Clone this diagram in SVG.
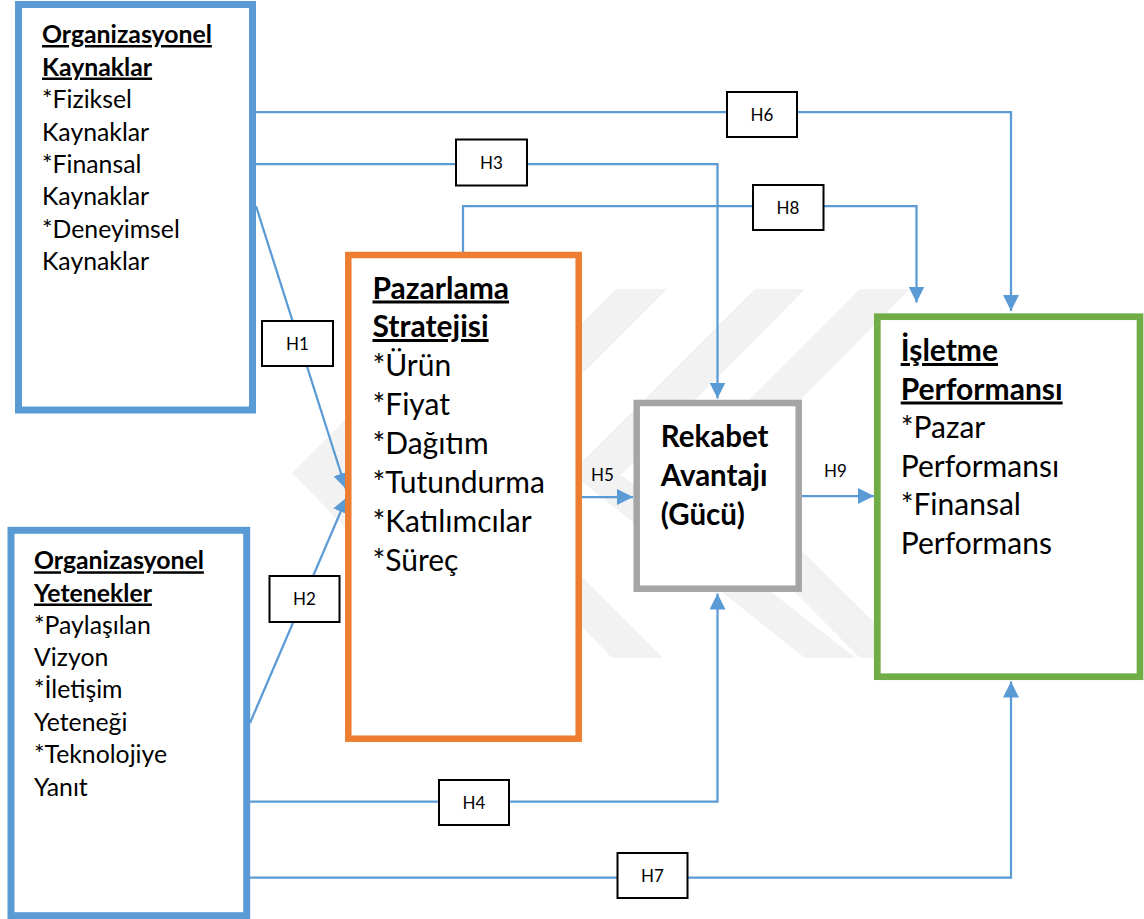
<svg xmlns="http://www.w3.org/2000/svg" width="1144" height="919" viewBox="0 0 1144 919">
  <style>
    .t { font-family: Lato, "Liberation Sans", sans-serif; fill: #000; }
    .s1 { font-size: 24.8px; }
    .s2 { font-size: 30px; }
    .hd { font-weight: bold; text-decoration: underline; }
    .b { font-weight: bold; }
    .lbl { font-family: Lato, "Liberation Sans", sans-serif; font-size: 17px; text-anchor: middle; fill: #000; }
    .lblbox { fill: #fff; stroke: #000; stroke-width: 2; }
    .conn { fill: none; stroke: #5B9BD5; stroke-width: 2.25; }
    .wm { fill: #F2F2F2; }
  </style>
  <defs>
    <marker id="arrow" markerUnits="userSpaceOnUse" markerWidth="16" markerHeight="16" refX="16" refY="8" orient="auto">
      <path d="M0,0 L16,8 L0,16 z" fill="#5B9BD5"/>
    </marker>
  </defs>

  <rect width="1144" height="919" fill="#fff"/>

  <!-- background emblem: nested chevrons -->
  <g id="emblem">
    <polygon class="wm" points="476,289 527,289 343,475 523,658 472,658 292,473"/>
    <polygon class="wm" points="616,289 667,289 481,475 663,658 612,658 432,473"/>
    <polygon class="wm" points="755,289 805,289 621,475 856,658 805,658 571,473"/>
    <polygon class="wm" points="860,289 910,289 726,475 910,658 860,658 676,473"/>
  </g>

  <!-- connectors -->
  <g id="connectors">
    <path class="conn" d="M256,112 H1011 V311" marker-end="url(#arrow)"/>
    <path class="conn" d="M244,164 H717.5 V398.5" marker-end="url(#arrow)"/>
    <path class="conn" d="M463,252 V206 H916.5 V302.5" marker-end="url(#arrow)"/>
    <path class="conn" d="M256,206 L346,489" marker-end="url(#arrow)"/>
    <path class="conn" d="M250,723 L347,497" marker-end="url(#arrow)"/>
    <path class="conn" d="M582,497 H633" marker-end="url(#arrow)"/>
    <path class="conn" d="M802,496 H874" marker-end="url(#arrow)"/>
    <path class="conn" d="M250,801.7 H717.5 V593.5" marker-end="url(#arrow)"/>
    <path class="conn" d="M250,877.7 H1011 V681.5" marker-end="url(#arrow)"/>

    <g id="label-H6"><rect class="lblbox" x="727" y="92" width="70" height="45"/><text class="lbl" x="762" y="121">H6</text></g>
    <g id="label-H3"><rect class="lblbox" x="456" y="139.5" width="71" height="46"/><text class="lbl" x="491.5" y="169">H3</text></g>
    <g id="label-H8"><rect class="lblbox" x="753" y="185" width="70.5" height="45"/><text class="lbl" x="788" y="214">H8</text></g>
    <g id="label-H1"><rect class="lblbox" x="262" y="321" width="71" height="45"/><text class="lbl" x="297.5" y="350">H1</text></g>
    <g id="label-H2"><rect class="lblbox" x="269.5" y="576" width="70" height="46"/><text class="lbl" x="304.5" y="605">H2</text></g>
    <g id="label-H4"><rect class="lblbox" x="439" y="780" width="70" height="45"/><text class="lbl" x="474" y="809">H4</text></g>
    <g id="label-H7"><rect class="lblbox" x="617.5" y="853" width="70" height="45"/><text class="lbl" x="652.5" y="882">H7</text></g>
    <text class="lbl" x="602.5" y="480.7">H5</text>
    <text class="lbl" x="835.5" y="477.3">H9</text>
  </g>

  <!-- Organizasyonel Kaynaklar -->
  <g id="org-kaynaklar">
    <rect x="18.5" y="4.5" width="234" height="405.5" fill="#fff" stroke="#5B9BD5" stroke-width="7"/>
    <text class="t s1" x="42">
      <tspan class="hd" x="42" y="43">Organizasyonel</tspan>
      <tspan class="hd" x="42" y="75.5">Kaynaklar</tspan>
      <tspan x="42" y="108">*Fiziksel</tspan>
      <tspan x="42" y="140.5">Kaynaklar</tspan>
      <tspan x="42" y="173">*Finansal</tspan>
      <tspan x="42" y="205">Kaynaklar</tspan>
      <tspan x="42" y="237.5">*Deneyimsel</tspan>
      <tspan x="42" y="270">Kaynaklar</tspan>
    </text>
  </g>

  <!-- Organizasyonel Yetenekler -->
  <g id="org-yetenekler">
    <rect x="11" y="530.3" width="235.7" height="385.4" fill="#fff" stroke="#5B9BD5" stroke-width="7"/>
    <text class="t s1" x="34">
      <tspan class="hd" x="34" y="569.3">Organizasyonel</tspan>
      <tspan class="hd" x="34" y="601.5">Yetenekler</tspan>
      <tspan x="34" y="633.5">*Paylaşılan</tspan>
      <tspan x="34" y="666">Vizyon</tspan>
      <tspan x="34" y="698.3">*İletişim</tspan>
      <tspan x="34" y="730.7">Yeteneği</tspan>
      <tspan x="34" y="763.3">*Teknolojiye</tspan>
      <tspan x="34" y="796">Yanıt</tspan>
    </text>
  </g>

  <!-- Pazarlama Stratejisi -->
  <g id="pazarlama">
    <rect x="348.3" y="255" width="230.4" height="483.7" fill="#fff" stroke="#ED7D31" stroke-width="6.5"/>
    <text class="t s2" x="372.5">
      <tspan class="hd" x="372.5" y="298.5">Pazarlama</tspan>
      <tspan class="hd" x="372.5" y="337">Stratejisi</tspan>
      <tspan x="372.5" y="376">*Ürün</tspan>
      <tspan x="372.5" y="415">*Fiyat</tspan>
      <tspan x="372.5" y="453.8">*Dağıtım</tspan>
      <tspan x="372.5" y="493">*Tutundurma</tspan>
      <tspan x="372.5" y="532">*Katılımcılar</tspan>
      <tspan x="372.5" y="570.7">*Süreç</tspan>
    </text>
  </g>

  <!-- Rekabet Avantajı -->
  <g id="rekabet">
    <rect x="636.7" y="403" width="162" height="185.7" fill="#fff" stroke="#A5A5A5" stroke-width="6.5"/>
    <text class="t s2 b" x="660.7" style="font-size:29.5px">
      <tspan x="660.7" y="446.7">Rekabet</tspan>
      <tspan x="660.7" y="486">Avantajı</tspan>
      <tspan x="660.7" y="525">(Gücü)</tspan>
    </text>
  </g>

  <!-- İşletme Performansı -->
  <g id="isletme">
    <rect x="877.3" y="316.7" width="262.7" height="360" fill="#fff" stroke="#70AD47" stroke-width="6.7"/>
    <text class="t s2" x="900.7">
      <tspan class="hd" x="900.7" y="361">İşletme</tspan>
      <tspan class="hd" x="900.7" y="399.5">Performansı</tspan>
      <tspan x="900.7" y="438">*Pazar</tspan>
      <tspan x="900.7" y="476.5">Performansı</tspan>
      <tspan x="900.7" y="515">*Finansal</tspan>
      <tspan x="900.7" y="553.5">Performans</tspan>
    </text>
  </g>
</svg>
